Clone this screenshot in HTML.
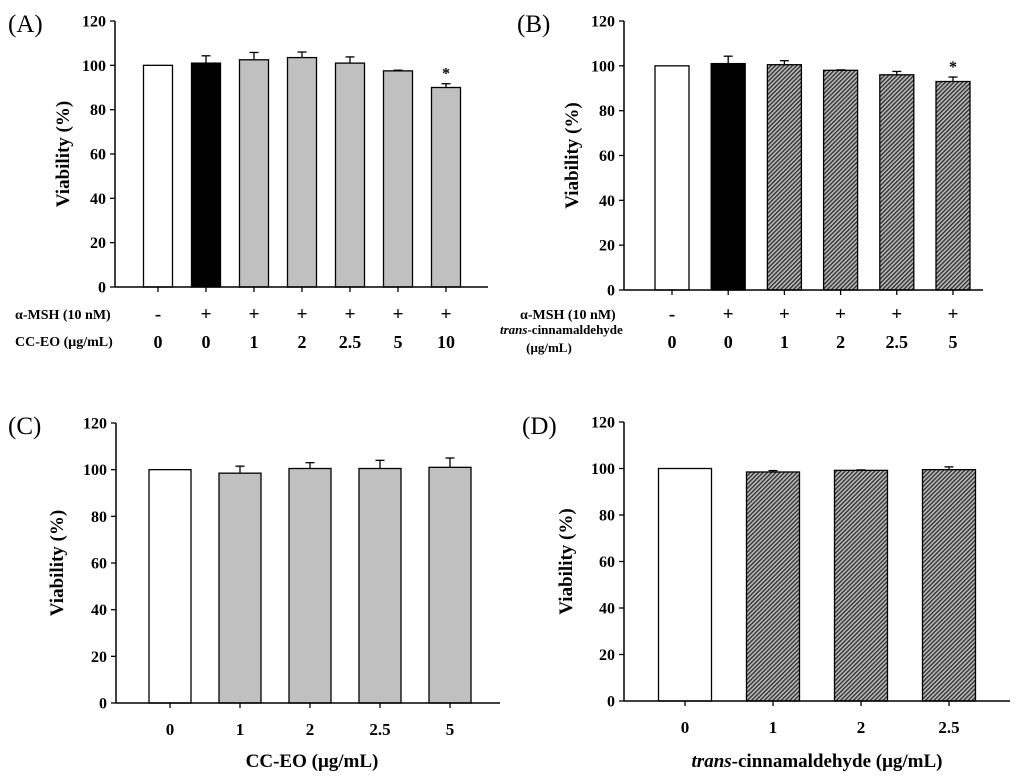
<!DOCTYPE html>
<html><head><meta charset="utf-8"><style>
body{margin:0;background:#fff;}
svg{display:block;font-family:"Liberation Serif",serif;}
</style></head><body>
<svg id="fig" width="1024" height="781" viewBox="0 0 1024 781">
<defs>
<pattern id="hatch" patternUnits="userSpaceOnUse" width="3" height="3" patternTransform="rotate(45)">
<rect width="3" height="3" fill="#bbb"/><rect width="1.4" height="3" fill="#333"/>
</pattern>
</defs>
</svg>
<script>
const ticks=[0,20,40,60,80,100,120];
const catsA=["0","0","1","2","2.5","5","10"];
const mshA=["-","+","+","+","+","+","+"];
const valsA=[100,101,102.5,103.5,101,97.5,90];
const errA=[0,3.3,3.3,2.5,2.8,0.3,1.7];
const sigA=[0,0,0,0,0,0,1];
const catsB=["0","0","1","2","2.5","5"];
const mshB=["-","+","+","+","+","+"];
const valsB=[100,101,100.5,98,96,93];
const errB=[0,3.3,1.8,0.2,1.5,2];
const sigB=[0,0,0,0,0,1];
const catsC=["0","1","2","2.5","5"];
const valsC=[100,98.5,100.5,100.5,101];
const errC=[0,3,2.5,3.5,4];
const catsD=["0","1","2","2.5"];
const valsD=[100,98.5,99.2,99.5];
const errD=[0,0.6,0.2,1.2];

const svg=document.getElementById('fig');
const NS='http://www.w3.org/2000/svg';
function mk(tag,attrs,parent,txt){const e=document.createElementNS(NS,tag);for(const k in attrs)e.setAttribute(k,attrs[k]);if(txt!==undefined)e.textContent=txt;(parent||svg).appendChild(e);return e;}

function panel(p){
  const g=mk('g',{});
  
  
  const y=v=>p.y0-(v/120)*(p.y0-p.y120);
  const n=p.vals.length;
  const step=(p.xc1-p.xc0)/(n-1);
  const x=i=>p.xc0+i*step;
  const lab=mk('text',{x:p.lx,y:p.ly,'font-size':25},g,'('+p.id+')');
  
  
  for(let i=0;i<n;i++){
    const r=mk('rect',{x:x(i)-p.bw/2,y:y(p.vals[i]),width:p.bw,height:y(0)-y(p.vals[i]),fill:p.fills[i],stroke:'#000','stroke-width':1.3},g);
    
    
    if(p.err[i]>0){
      const top=y(p.vals[i]+p.err[i]);
      mk('line',{x1:x(i),x2:x(i),y1:y(p.vals[i]),y2:top,stroke:'#000','stroke-width':1.3},g);
      mk('line',{x1:x(i)-4.5,x2:x(i)+4.5,y1:top,y2:top,stroke:'#000','stroke-width':1.3},g);
    }
    if(p.sig&&p.sig[i]){
      const s=mk('text',{x:x(i),y:y(p.vals[i]+p.err[i])-5,'font-size':16,'text-anchor':'middle','font-weight':'bold'},g,'*');
      
      
    }
  }
  mk('line',{x1:p.ax0,x2:p.ax0,y1:y(120),y2:y(0),stroke:'#000','stroke-width':1.5},g);
  mk('line',{x1:p.ax0,x2:p.ax1,y1:y(0),y2:y(0),stroke:'#000','stroke-width':1.5},g);
  ticks.forEach(t=>{
    mk('line',{x1:p.ax0-5,x2:p.ax0,y1:y(t),y2:y(t),stroke:'#000','stroke-width':1.3},g);
    const tl=mk('text',{x:p.ax0-9,y:y(t)+5.5,'font-size':16,'font-weight':'bold','text-anchor':'end'},g,t);
    
    
  });
  for(let i=0;i<n;i++) mk('line',{x1:x(i),x2:x(i),y1:y(0),y2:y(0)+5,stroke:'#000','stroke-width':1.3},g);
  const yt=mk('text',{transform:`translate(${p.ytx},${(y(0)+y(120))/2}) rotate(-90)`,'font-size':19,'font-weight':'bold','text-anchor':'middle'},g,'Viability (%)');
  
  
  if(p.msh){
    for(let i=0;i<n;i++){
      const t=mk('text',{x:x(i),y:p.r1y,'font-size':19,'font-weight':'bold','text-anchor':'middle'},g,p.msh[i]);
      
      
    }
  }
  for(let i=0;i<n;i++){
    const t=mk('text',{x:x(i),y:p.r2y,'font-size':p.catSize,'font-weight':'bold','text-anchor':'middle'},g,p.cats[i]);
    
    
  }
  return {g,y,x};
}

panel({id:'A',lx:8,ly:32,y0:287,y120:21,ax0:115,ax1:488,xc0:158,xc1:446,bw:29,vals:valsA,err:errA,sig:sigA,
  fills:valsA.map((v,i)=>i===0?'#fff':i===1?'#000':'#c0c0c0'),msh:mshA,cats:catsA,r1y:320,r2y:348,catSize:18,ytx:69});
let rowA=mk('text',{x:15,y:319,'font-size':14,'font-weight':'bold'},null,'α-MSH (10 nM)');

let rowA2=mk('text',{x:15,y:346,'font-size':14,'font-weight':'bold'},null,'CC-EO (μg/mL)');


panel({id:'B',lx:517,ly:32,y0:290,y120:21,ax0:624,ax1:983,xc0:672,xc1:953,bw:34,vals:valsB,err:errB,sig:sigB,
  fills:valsB.map((v,i)=>i===0?'#fff':i===1?'#000':'url(#hatch)'),msh:mshB,cats:catsB,r1y:320,r2y:348,catSize:18,ytx:578});
let rowB=mk('text',{x:520,y:319,'font-size':14,'font-weight':'bold'},null,'α-MSH (10 nM)');

let rowB2=mk('text',{x:500,y:334,'font-size':13,'font-weight':'bold'},null,'');
rowB2.innerHTML='<tspan font-style="italic">trans</tspan>-cinnamaldehyde';

let rowB3=mk('text',{x:549,y:352,'font-size':13,'font-weight':'bold','text-anchor':'middle'},null,'(μg/mL)');


panel({id:'C',lx:8,ly:434,y0:703,y120:423,ax0:116,ax1:500,xc0:170,xc1:450,bw:42,vals:valsC,err:errC,
  fills:valsC.map((v,i)=>i===0?'#fff':'#c0c0c0'),cats:catsC,r2y:735,catSize:17,ytx:63});
let xtC=mk('text',{x:312,y:767,'font-size':19,'font-weight':'bold','text-anchor':'middle'},null,'CC-EO (μg/mL)');


panel({id:'D',lx:522,ly:434,y0:701,y120:422,ax0:624,ax1:1010,xc0:685,xc1:949,bw:53,vals:valsD,err:errD,
  fills:valsD.map((v,i)=>i===0?'#fff':'url(#hatch)'),cats:catsD,r2y:733,catSize:17,ytx:572});
let xtD=mk('text',{x:817,y:767,'font-size':19,'font-weight':'bold','text-anchor':'middle'},null,'');
xtD.innerHTML='<tspan font-style="italic">trans</tspan>-cinnamaldehyde (μg/mL)';

</script>
</body></html>
